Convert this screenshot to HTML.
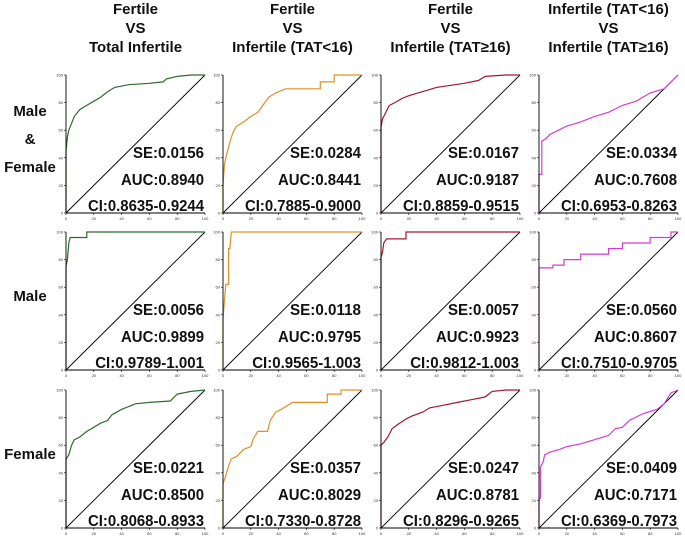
<!DOCTYPE html>
<html><head><meta charset="utf-8"><style>
html,body{margin:0;padding:0;background:#fff;}
svg{display:block;font-family:"Liberation Sans",Arial,sans-serif;}
</style></head><body>
<svg id="chart" width="685" height="540" viewBox="0 0 685 540" xmlns="http://www.w3.org/2000/svg"></svg>
<script>
const colTitles = [["Fertile","VS","Total Infertile"],["Fertile","VS","Infertile (TAT<16)"],["Fertile","VS","Infertile (TAT≥16)"],["Infertile (TAT<16)","VS","Infertile (TAT≥16)"]];
const colors = ["#2e6b2e","#e0902a","#a01830","#d43cd4"];
const seVals = [["0.0156","0.0284","0.0167","0.0334"],["0.0056","0.0118","0.0057","0.0560"],["0.0221","0.0357","0.0247","0.0409"]];
const aucVals = [["0.8940","0.8441","0.9187","0.7608"],["0.9899","0.9795","0.9923","0.8607"],["0.8500","0.8029","0.8781","0.7171"]];
const ciVals = [["0.8635-0.9244","0.7885-0.9000","0.8859-0.9515","0.6953-0.8263"],["0.9789-1.001","0.9565-1.003","0.9812-1.003","0.7510-0.9705"],["0.8068-0.8933","0.7330-0.8728","0.8296-0.9265","0.6369-0.7973"]];
const tickVals = [0,20,40,60,80,100];
const curves = [
[[[0,0],[0,45],[1,55],[2,60],[4,65],[6,70],[10,75],[15,78],[20,81],[25,84],[30,88],[35,91],[45,93],[60,94],[70,95],[72,97],[80,99],[90,100],[100,100]],
 [[0,0],[0,20],[1,35],[2,40],[4,48],[6,55],[8,60],[10,63],[15,66],[20,70],[25,73],[30,80],[33,84],[38,87],[45,90],[70,90],[70,95],[80,95],[80,100],[100,100]],
 [[0,0],[0,62],[1,68],[3,72],[6,78],[10,80],[15,83],[20,85],[30,88],[40,91],[60,94],[70,96],[75,99],[90,100],[100,100]],
 [[0,0],[0,28],[2,28],[2,52],[5,54],[8,57],[12,59],[20,63],[30,66],[40,70],[50,73],[60,78],[70,81],[80,87],[90,90],[95,95],[100,100]]],
[[[0,0],[0,75],[1,80],[2,92],[3,96],[15,96],[15,100],[100,100]],
 [[0,0],[0,37],[1,50],[2,62],[4,62],[4,88],[5,88],[6,100],[100,100]],
 [[0,0],[0,82],[1,85],[2,92],[4,95],[18,95],[18,100],[100,100]],
 [[0,0],[0,74],[10,74],[10,76],[18,76],[18,80],[30,80],[30,84],[50,84],[50,88],[60,88],[60,92],[80,92],[80,96],[95,96],[95,100],[100,100]]],
[[[0,0],[0,50],[2,53],[4,60],[6,64],[10,66],[15,70],[20,73],[25,76],[30,78],[33,82],[40,86],[45,88],[50,90],[60,91],[75,92],[80,97],[90,99],[100,100]],
 [[0,0],[0,32],[2,38],[4,45],[6,50],[10,52],[15,57],[20,59],[22,65],[25,70],[32,70],[34,78],[38,84],[42,86],[50,91],[75,91],[75,97],[85,97],[85,100],[100,100]],
 [[0,0],[0,60],[2,62],[5,66],[8,72],[12,75],[18,79],[22,81],[30,84],[35,87],[45,89],[55,91],[65,93],[75,95],[80,99],[90,100],[100,100]],
 [[0,0],[0,20],[1,22],[1,44],[3,48],[4,53],[8,55],[15,57],[20,59],[30,61],[40,64],[50,67],[55,72],[60,73],[65,78],[75,83],[85,86],[90,90],[95,98],[100,100]]]
];
const rowLabels = [["Male","&","Female"],["Male"],["Female"]];

const NS="http://www.w3.org/2000/svg";
const svg=document.getElementById('chart');
function mk(tag,attrs,parent){const e=document.createElementNS(NS,tag);for(const k in attrs)e.setAttribute(k,attrs[k]);(parent||svg).appendChild(e);return e;}
const colX=[66,223,381,539], rowY=[75,232,390], W=139, H=138;

colTitles.forEach((lines,c)=>{
  lines.forEach((t,i)=>{
    const el=mk('text',{x:colX[c]+W/2,y:14+i*19,'text-anchor':'middle','font-size':15,'font-weight':'bold',fill:'#111'});
    
    
    el.textContent=t;
  });
});
rowLabels.forEach((lines,r)=>{
  const n=lines.length;
  lines.forEach((t,i)=>{
    const cy=rowY[r]+H/2+(i-(n-1)/2)*28;
    const el=mk('text',{x:30,y:cy,'text-anchor':'middle','font-size':15,'font-weight':'bold',fill:'#111'});
    
    
    el.textContent=t;
  });
});

for(let r=0;r<3;r++)for(let c=0;c<4;c++){
  const x0=colX[c], y0=rowY[r];
  const sx=v=>x0+v/100*W, sy=v=>y0+H-v/100*H;
  const g=mk('g',{});
  
  
  tickVals.forEach(t=>{
    mk('line',{x1:x0-2,x2:x0,y1:sy(t),y2:sy(t),stroke:'#000','stroke-width':0.6},g);
    const yl=mk('text',{x:x0-3,y:sy(t)+1.5,'text-anchor':'end','font-size':4,fill:'#333'},g);
    
    
    yl.textContent=t;
    mk('line',{x1:sx(t),x2:sx(t),y1:y0+H,y2:y0+H+2,stroke:'#000','stroke-width':0.6},g);
    const xl=mk('text',{x:sx(t),y:y0+H+7,'text-anchor':'middle','font-size':4,fill:'#333'},g);
    
    
    xl.textContent=t;
  });
  const diag=mk('line',{x1:sx(0),y1:sy(0),x2:sx(100),y2:sy(100),stroke:'#000','stroke-width':0.9},g);
  
  
  const pts=curves[r][c].map(p=>sx(p[0]).toFixed(1)+','+sy(p[1]).toFixed(1)).join(' ');
  const pl=mk('polyline',{points:pts,fill:'none',stroke:colors[c],'stroke-width':1.2},g);
  
  
  mk('path',{d:`M${x0},${y0} V${y0+H} H${x0+W}`,fill:'none',stroke:'#000','stroke-width':0.9},g);
  const ciStr="CI:"+ciVals[r][c];
  const stats=[["SE:"+seVals[r][c],83,71],["AUC:"+aucVals[r][c],110,83],[ciStr,136,ciStr.length*7.25]];
  stats.forEach(([t,dy,w])=>{
    const el=mk('text',{x:x0+W-1,y:y0+dy,'text-anchor':'end','font-size':16,'font-weight':'bold',fill:'#111',textLength:w.toFixed(1),lengthAdjust:'spacingAndGlyphs'},g);
    
    
    el.textContent=t;
  });
}
</script>
</body></html>
